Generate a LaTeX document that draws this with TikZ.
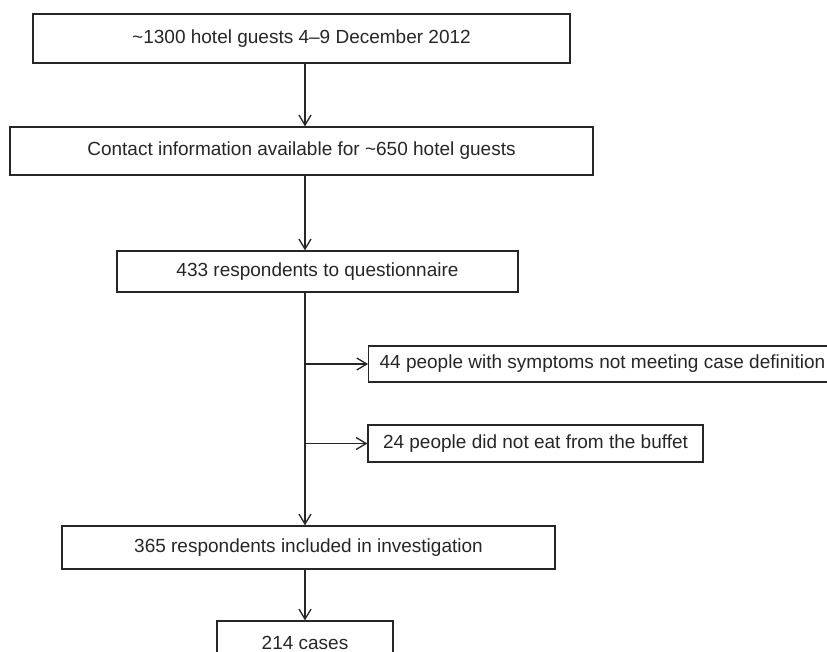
\documentclass[tikz,border=0pt]{standalone}
\usepackage{fontspec}
\setmainfont{Liberation Sans}
\usetikzlibrary{arrows.meta}

\definecolor{inkgrey}{HTML}{262626}

\tikzset{
  flowbox/.style={draw=inkgrey, line width=1.3pt, rectangle, inner sep=0pt,
    text=inkgrey, font=\fontsize{19}{22}\selectfont},
  flowarrow/.style={draw=inkgrey, line width=1.3pt,
    -{Straight Barb[length=10pt,width=12pt]}}
}

\begin{document}
\begin{tikzpicture}[x=1pt,y=-1pt]

    \useasboundingbox (0,0) rectangle (827,652);
    \clip (0,0) rectangle (827,652);

    \coordinate (trunk) at (305,0);

    \node[flowbox, minimum width=537pt, minimum height=49pt] (guests)   at (301.5,38.5) {\textasciitilde1300 hotel guests 4--9 December 2012};
    \node[flowbox, minimum width=583pt, minimum height=48pt] (contact)  at (301.5,151) {Contact information available for \textasciitilde650 hotel guests};
    \node[flowbox, minimum width=401pt, minimum height=41pt] (respond)  at (317.5,271.5) {433 respondents to questionnaire};
    \node[flowbox, minimum height=36pt, inner xsep=11pt, anchor=west] (symptoms) at (368,364) {\makebox[470pt][l]{44 people with symptoms not meeting case definition}};
    \node[flowbox, minimum width=335pt, minimum height=37pt] (buffet)   at (535.5,443.5) {24 people did not eat from the buffet};
    \node[flowbox, minimum width=493pt, minimum height=43pt] (included) at (308.5,547.5) {365 respondents included in investigation};
    \node[flowbox, minimum width=176pt, minimum height=43pt] (cases)    at (305,642.5) {214 cases};

    \draw[flowarrow] (guests.south -| trunk) -- (contact.north -| trunk);
    \draw[flowarrow] (contact.south -| trunk) -- (respond.north -| trunk);
    \draw[flowarrow] (respond.south -| trunk) -- (included.north -| trunk);
    \draw[flowarrow] (symptoms.west -| trunk) -- (symptoms.west);
    \draw[flowarrow] (buffet.west -| trunk) -- (buffet.west);
    \draw[flowarrow] (included.south -| trunk) -- (cases.north -| trunk);

\end{tikzpicture}
\end{document}
